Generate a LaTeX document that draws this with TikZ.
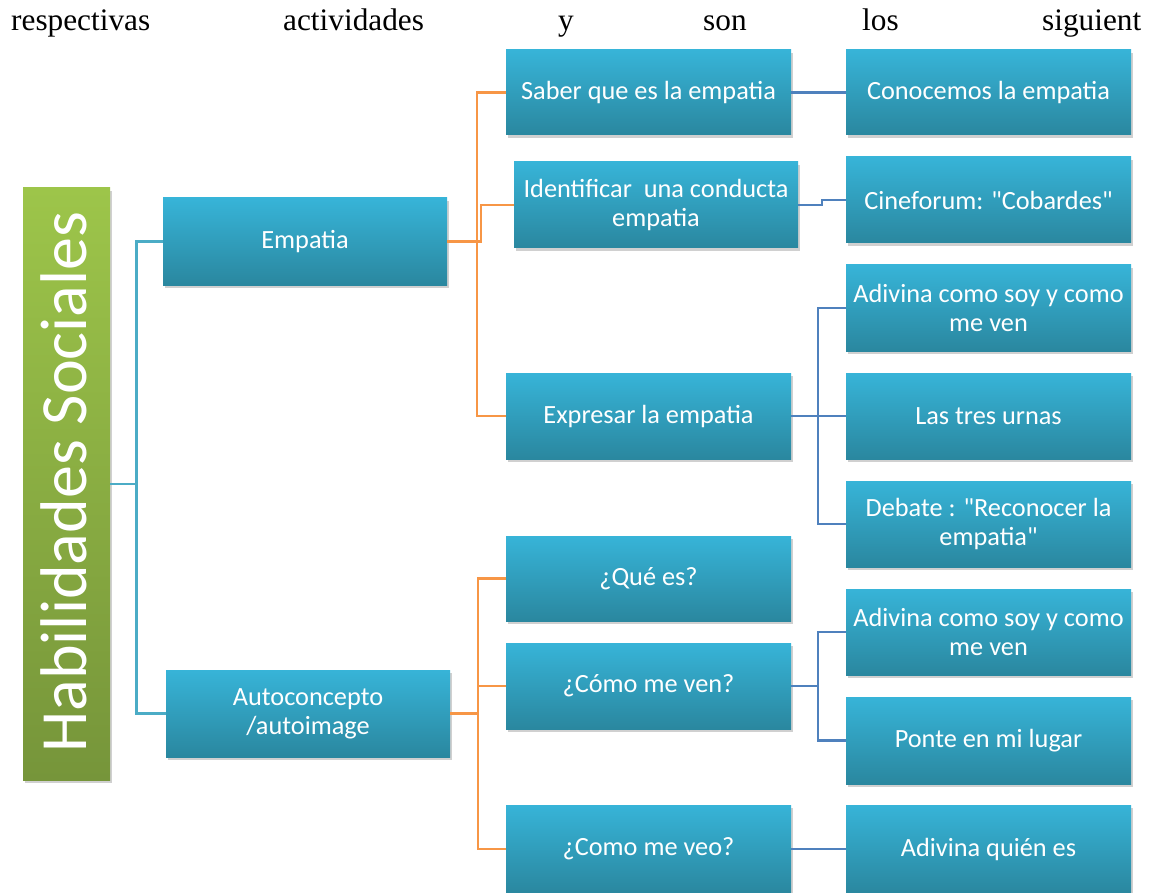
\documentclass[tikz,border=0pt]{standalone}
\usepackage{fontspec}
\newfontfamily\boxfont{Carlito}
\newfontfamily\tnr{Liberation Serif}
\usetikzlibrary{shadows}
\definecolor{boxtop}{HTML}{37B4D8}
\definecolor{boxbot}{HTML}{2A879F}
\definecolor{grtop}{HTML}{9DC54A}
\definecolor{grbot}{HTML}{76953A}
\definecolor{tealline}{HTML}{4BACC6}
\definecolor{orline}{HTML}{F79646}
\definecolor{blline}{HTML}{4F81BD}
\tikzset{
  bx/.style={rectangle, top color=boxtop, bottom color=boxbot, draw=none,
    drop shadow={shadow xshift=2pt, shadow yshift=-3pt, opacity=0.3, fill=black!60},
    text=white, font=\boxfont\fontsize{26.3}{29}\selectfont, align=center,
    minimum width=285pt, minimum height=86pt, inner sep=0pt},
  grbox/.style={rectangle, top color=grtop, bottom color=grbot, draw=none,
    drop shadow={shadow xshift=2pt, shadow yshift=-3pt, opacity=0.3, fill=black!60},
    minimum width=87pt, minimum height=592pt, inner sep=0pt},
  ttl/.style={rotate=90, anchor=base, text=white, font=\boxfont\fontsize{66}{70}\selectfont, inner sep=0pt},
  word/.style={anchor=base west, inner sep=0pt, font=\tnr\fontsize{31.3}{36}\selectfont},
  lk/.style={line width=2.8pt},
  tl/.style={lk, draw=tealline},
  ol/.style={lk, draw=orline},
  bl/.style={lk, draw=blline}
}
\begin{document}
\begin{tikzpicture}[x=1pt,y=-1pt]
\useasboundingbox[fill=white] (0,0) rectangle (1153,893);
% top text
\node[word] (w1) at (11,31) {respectivas};
\node[word] (w2) at (283,31) {actividades};
\node[word] (w3) at (558,31) {y};
\node[word] (w4) at (703,31) {son};
\node[word] (w5) at (862,31) {los};
\node[word] (w6) at (1042,31) {siguient};
% root
\node[grbox] (root) at (66.5,484) {};
\node[ttl] (title) at (86,482) {Habilidades Sociales};
% level 1
\node[bx, minimum width=284pt, minimum height=87pt] (emp) at (305,241.5) {Empatia};
\node[bx, minimum width=284pt, minimum height=87pt] (auto) at (308,713.5) {Autoconcepto\\/autoimage};
% level 2
\node[bx, minimum height=85pt] (saber) at (648.5,92.5) {Saber que es la empatia};
\node[bx, minimum width=284pt] (ident) at (656,205) {Identificar\ \ una conducta\\empatia};
\node[bx] (expr) at (648.5,416) {Expresar la empatia};
\node[bx, minimum height=85pt] (que) at (648.5,578.5) {¿Qué es?};
\node[bx] (comoven) at (648.5,686) {¿Cómo me ven?};
\node[bx, minimum height=88pt] (veo) at (648.5,849) {¿Como me veo?};
% level 3
\node[bx, minimum height=85pt] (conoc) at (988.5,92.5) {Conocemos la empatia};
\node[bx] (cine) at (988.5,200) {Cineforum: "Cobardes"};
\node[bx] (adiv1) at (988.5,308) {Adivina como soy y como\\me ven};
\node[bx] (tres) at (988.5,416) {Las tres urnas};
\node[bx] (debate) at (988.5,524) {Debate : "Reconocer la\\empatia"};
\node[bx] (adiv2) at (988.5,632) {Adivina como soy y como\\me ven};
\node[bx, minimum height=87pt] (ponte) at (988.5,740.5) {Ponte en mi lugar};
\node[bx, minimum height=88pt] (adivq) at (988.5,849) {Adivina quién es};
% junction coordinates
\coordinate (j0) at (136.5,484);
\coordinate (j1) at (477,241.5);
\coordinate (j1b) at (481,241.5);
\coordinate (j2) at (478,713.5);
\coordinate (j3) at (822,205);
\coordinate (j4) at (818,416);
\coordinate (j5) at (818,686);
% teal
\draw[tl] (root.east) -- (j0) |- (emp.west);
\draw[tl] (j0) |- (auto.west);
% orange
\draw[ol] (emp.east) -- (j1) |- (saber.west);
\draw[ol] (j1) |- (expr.west);
\draw[ol] (emp.east) -- (j1b) |- (ident.west);
\draw[ol] (auto.east) -- (j2) |- (que.west);
\draw[ol] (j2) |- (comoven.west);
\draw[ol] (j2) |- (veo.west);
% blue
\draw[bl] (saber.east) -- (conoc.west);
\draw[bl] (ident.east) -- (j3) |- (cine.west);
\draw[bl] (expr.east) -- (j4) |- (adiv1.west);
\draw[bl] (j4) -- (tres.west);
\draw[bl] (j4) |- (debate.west);
\draw[bl] (comoven.east) -- (j5) |- (adiv2.west);
\draw[bl] (j5) |- (ponte.west);
\draw[bl] (veo.east) -- (adivq.west);
\end{tikzpicture}
\end{document}
